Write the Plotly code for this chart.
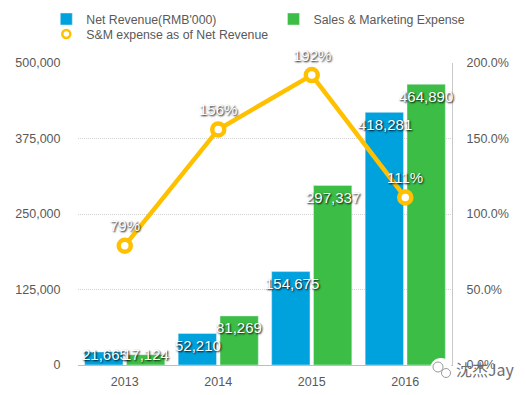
import plotly.graph_objects as go

years = [2013, 2014, 2015, 2016]
net_revenue = [21665, 52210, 154675, 418281]
sales_marketing = [17124, 81269, 297337, 464890]
sm_ratio = [79, 156, 192, 111]
left_ticks = [0, 125000, 250000, 375000, 500000]
right_ticks = [0, 50, 100, 150, 200]

FONT = "Liberation Sans"
GREY = "#595959"
YELLOW = "#FFC000"
SHADOW = "1px 1px 2px #000000"
TICK_SIZE = 12.5

fig = go.Figure()
fig.add_trace(go.Bar(x=years, y=net_revenue, name="Net Revenue(RMB'000)", marker_color="#00A2DE", legend="legend"))
fig.add_trace(go.Bar(x=years, y=sales_marketing, name="Sales & Marketing Expense", marker_color="#3CBE46", legend="legend2"))
fig.add_trace(go.Scatter(
    x=years, y=sm_ratio, yaxis="y2", mode="lines+markers", showlegend=False,
    line=dict(color=YELLOW, width=4.5),
    marker=dict(size=12, color="white", line=dict(color=YELLOW, width=4.5)),
    cliponaxis=False,
))
fig.add_trace(go.Scatter(
    x=[None], y=[None], yaxis="y2", mode="markers", name="S&M expense as of Net Revenue", legend="legend3",
    marker=dict(size=8, color="white", line=dict(color=YELLOW, width=2.5)),
))

annotations = []
for series, shift in ((net_revenue, -20), (sales_marketing, 21)):
    for yr, v in zip(years, series):
        annotations.append(dict(
            x=yr, y=max(v, 37000), xref="x", yref="y", text=f"{v:,}", showarrow=False,
            xshift=shift, yshift=-12, yanchor="middle",
            font=dict(family=FONT, size=15, color="white", shadow=SHADOW),
        ))
for yr, v in zip(years, sm_ratio):
    annotations.append(dict(
        x=yr, y=v, xref="x", yref="y2", text=f"{v}%", showarrow=False,
        yshift=20, yanchor="middle",
        font=dict(family=FONT, size=15, color="white", shadow=SHADOW),
    ))


def px_x(p):
    return (p - 78) / 374


def px_y(p):
    return (365 - p) / 302


annotations.append(dict(
    xref="paper", yref="paper", x=px_x(486), y=px_y(369), xanchor="center", yanchor="middle",
    text="沈杰Jay", showarrow=False,
    font=dict(family="Noto Sans CJK SC", size=16, color="#6E6E6E"),
))

shapes = []
for cx, cy, r, line_col in ((441, 369, 11, "rgba(0,0,0,0)"), (438, 367, 5, "#9A9A9A"), (446, 373, 4.5, "#9A9A9A")):
    shapes.append(dict(
        type="circle", xref="paper", yref="paper", layer="above",
        x0=px_x(cx - r), x1=px_x(cx + r), y0=px_y(cy + r), y1=px_y(cy - r),
        fillcolor="white", line=dict(color=line_col, width=1),
    ))

legend_common = dict(
    orientation="v", yanchor="middle", xanchor="left", xref="container", yref="container",
    font=dict(size=12.3, color=GREY), itemwidth=30, tracegroupgap=0,
    bgcolor="rgba(0,0,0,0)",
)

fig.update_layout(
    width=526, height=395,
    margin=dict(l=78, r=74, t=63, b=30, autoexpand=False),
    paper_bgcolor="white", plot_bgcolor="white",
    font=dict(family=FONT, size=TICK_SIZE, color=GREY),
    bargap=0.105, bargroupgap=0.084, barmode="group",
    showlegend=True,
    legend=dict(x=0.088, y=1 - 19 / 395, **legend_common),
    legend2=dict(x=0.52, y=1 - 19 / 395, **legend_common),
    legend3=dict(x=0.088, y=1 - 34 / 395, **legend_common),
    xaxis=dict(
        type="linear", range=[2012.5, 2016.5], tickmode="array", tickvals=years, ticktext=[str(y) for y in years],
        showgrid=False, zeroline=False, showline=True, linecolor="#BDBDBD", linewidth=1,
        ticks="outside", ticklen=5, tickcolor="rgba(0,0,0,0)", tickfont=dict(size=TICK_SIZE, color=GREY),
    ),
    yaxis=dict(
        range=[0, 500000], tickvals=left_ticks, tickformat=",", showline=False,
        showgrid=True, gridcolor="#D2D2D2", griddash="1px,1px", gridwidth=1, zeroline=False,
        ticks="outside", ticklen=14, tickcolor="rgba(0,0,0,0)", tickfont=dict(size=TICK_SIZE, color=GREY),
    ),
    yaxis2=dict(
        range=[0, 200], tickvals=right_ticks, ticktext=[f"{t:.1f}%" for t in right_ticks],
        overlaying="y", side="right", showgrid=False, zeroline=False,
        showline=True, linecolor="#C8C8C8", linewidth=1,
        ticks="outside", ticklen=11, tickcolor="rgba(0,0,0,0)", tickfont=dict(size=TICK_SIZE, color=GREY),
    ),
    annotations=annotations,
    shapes=shapes,
)
fig.write_html("out.html", config={"displayModeBar": False}, post_script="document.body.style.margin='0';")
